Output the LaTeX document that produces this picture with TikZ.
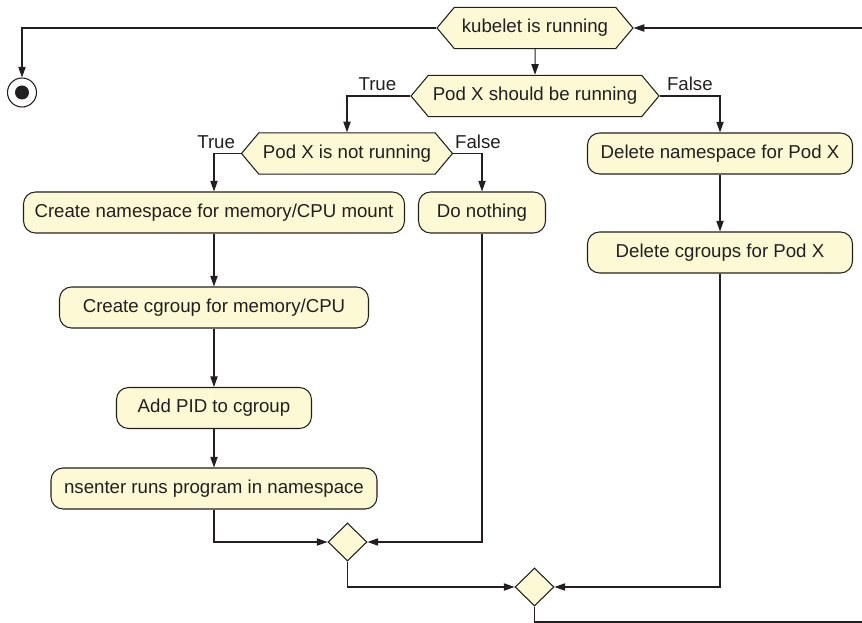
\documentclass[tikz,border=0pt]{standalone}
\usepackage{fontspec}
\setmainfont{Liberation Sans}
\usetikzlibrary{arrows.meta,shapes.symbols,shapes.geometric}
\definecolor{box_fill}{RGB}{253,249,212}
\definecolor{box_line}{RGB}{35,31,32}

\begin{document}
\begin{tikzpicture}[->,line width=0.8pt,>={Triangle[length=8pt,width=5.5pt]},x=0.75pt,y=-0.75pt,color=box_line]
    \tikzstyle{every node}=[font=\fontsize{14}{16}\selectfont, text=box_line]
    \tikzstyle{box}=[draw=box_line, fill=box_fill, rounded corners=9pt, minimum height=30.75pt, inner sep=0pt]
    \tikzstyle{test}=[draw=box_line, fill=box_fill, signal, signal to=west and east, signal pointer angle=100, minimum height=31pt, inner sep=0pt]
    \tikzstyle{merge}=[draw=box_line, fill=box_fill, diamond, minimum width=29.25pt, minimum height=28.5pt, inner sep=0pt]
    \tikzstyle{stopnode}=[draw=box_line, circle, minimum size=21.75pt, inner sep=0pt,
        path picture={\fill[-,box_line] (path picture bounding box.center) circle (5.25pt);}]
    \tikzstyle{hv}=[to path={-| (\tikztotarget) \tikztonodes}]
    \tikzstyle{vh}=[to path={|- (\tikztotarget) \tikztonodes}]

    \useasboundingbox (0,0) rectangle (862,623);

    \node[test, minimum width=147pt]    (kub) at (535,28)      {kubelet is running};
    \node[test, minimum width=186pt]    (should) at (535,96)   {Pod X should be running};
    \node[test, minimum width=158.25pt] (notrun) at (347,153.5) {Pod X is not running};
    \node[box, minimum width=285.75pt]  (createns) at (214,212.5) {Create namespace for memory/CPU mount};
    \node[box, minimum width=231.75pt]  (createcg) at (214,307.5) {Create cgroup for memory/CPU};
    \node[box, minimum width=146.25pt]  (addpid) at (214,408)     {Add PID to cgroup};
    \node[box, minimum width=244.5pt]   (nsenter) at (214,488.5)  {nsenter runs program in namespace};
    \node[box, minimum width=95.25pt]   (nothing) at (482,212.5)  {Do nothing};
    \node[box, minimum width=198.75pt]  (delns) at (720,153.5)    {Delete namespace for Pod X};
    \node[box, minimum width=198.75pt]  (delcg) at (720,252.5)    {Delete cgroups for Pod X};
    \node[merge] (merge1) at (347.5,542) {};
    \node[merge] (merge2) at (534.5,587) {};
    \node[stopnode] (stop) at (22,92.5) {};
    \coordinate (loopin) at (862,28);
    \coordinate (loopout) at (862,622);

    \path
     (kub.west) edge[hv] (stop.north)
     (loopin) edge (kub.east)
     (kub) edge (should)
     (should.west) edge[hv] node[above, pos=0.26] {True} (notrun.north)
     (should.east) edge[hv] node[above, pos=0.25] {False} (delns.north)
     (notrun.west) edge[hv] node[above, pos=0.46] {True} (createns.north)
     (notrun.east) edge[hv] node[above, pos=0.43] {False} (nothing.north)
     (createns) edge (createcg)
     (createcg) edge (addpid)
     (addpid) edge (nsenter)
     (delns) edge (delcg)
     (nsenter.south) edge[vh] (merge1.west)
     (nothing.south) edge[vh] (merge1.east)
     (merge1.south) edge[vh] (merge2.west)
     (delcg.south) edge[vh] (merge2.east)
     (merge2.south) edge[vh, -] (loopout)
     ;
\end{tikzpicture}
\end{document}
